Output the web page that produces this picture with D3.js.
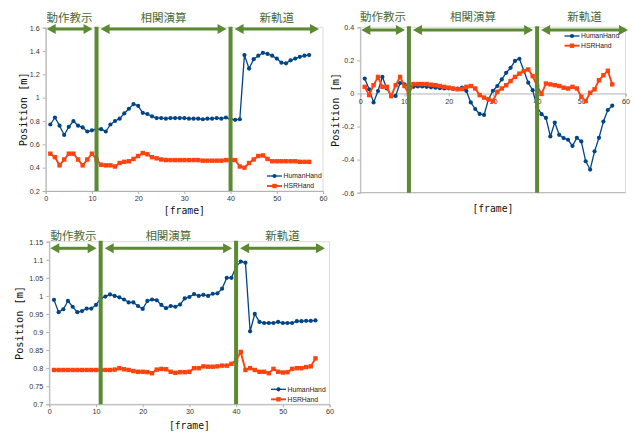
<!DOCTYPE html>
<html><head><meta charset="utf-8">
<script src="https://cdn.jsdelivr.net/npm/d3@7"></script>
<style>html,body{margin:0;padding:0;background:#fff;}svg{display:block;}</style>
</head><body>
<svg id="c" width="635" height="432"></svg>
<script>
// ---------- DATA ----------
const frames = [1,2,3,4,5,6,7,8,9,10,11,12,13,14,15,16,17,18,19,20,21,22,23,24,25,26,27,28,29,30,
  31,32,33,34,35,36,37,38,39,40,41,42,43,44,45,46,47,48,49,50,51,52,53,54,55,56,57];
const seriesNames = ["HumanHand","HSRHand"];
const phaseLabels = ["動作教示","相関演算","新軌道"];
const phaseBounds = [11, 40];           // frame positions of the green separators
const xTicks = [0,10,20,30,40,50,60];

const chart1Human = [0.77,0.83,0.76,0.68,0.75,0.80,0.76,0.745,0.71,0.72,0.73,0.73,0.71,0.77,0.80,0.82,0.865,0.905,0.945,0.93,
  0.87,0.86,0.84,0.825,0.825,0.82,0.825,0.825,0.825,0.825,0.82,0.82,0.82,0.815,0.82,0.82,0.825,0.82,0.83,0.815,
  0.81,0.815,1.365,1.25,1.33,1.36,1.385,1.375,1.36,1.335,1.30,1.295,1.32,1.335,1.35,1.36,1.365];
const chart1HSR = [0.52,0.49,0.42,0.47,0.52,0.52,0.47,0.42,0.47,0.52,0.47,0.425,0.42,0.42,0.41,0.44,0.45,0.455,0.475,0.50,
  0.525,0.515,0.49,0.48,0.47,0.465,0.465,0.465,0.465,0.465,0.465,0.465,0.465,0.46,0.46,0.46,0.46,0.46,0.465,0.465,
  0.465,0.41,0.40,0.44,0.47,0.50,0.505,0.475,0.455,0.455,0.455,0.455,0.455,0.455,0.45,0.45,0.45];
const chart1YTicks = [0.2,0.4,0.6,0.8,1,1.2,1.4,1.6];
const chart1YLabels = ["0.2","0.4","0.6","0.8","1","1.2","1.4","1.6"];

const chart2Human = [0.09,0.025,-0.054,0.015,0.10,0.03,-0.016,-0.015,0.063,0.055,0.045,0.04,0.042,0.042,0.04,0.037,0.035,0.032,0.03,0.03,
  0.028,0.03,0.035,0.015,-0.054,-0.094,-0.124,-0.13,-0.036,0.016,0.045,0.085,0.125,0.155,0.197,0.21,0.137,0.065,0.02,-0.082,
  -0.125,-0.148,-0.26,-0.176,-0.25,-0.27,-0.28,-0.317,-0.268,-0.29,-0.41,-0.46,-0.35,-0.268,-0.17,-0.10,-0.074];
const chart2HSR = [0.04,-0.01,0.05,0.10,0.04,0.04,-0.016,0.05,0.10,0.045,-0.004,0.057,0.057,0.057,0.057,0.053,0.05,0.045,0.04,0.035,
  0.03,0.025,0.027,0.04,0.045,0.03,-0.01,-0.025,-0.035,-0.045,0.01,0.03,0.05,0.075,0.10,0.12,0.135,0.145,0.105,0.045,
  -0.003,0.06,0.055,0.05,0.045,0.035,0.03,0.04,0.03,-0.02,-0.046,0.004,0.025,0.08,0.11,0.137,0.055];
const chart2YTicks = [-0.6,-0.4,-0.2,0,0.2,0.4];
const chart2YLabels = ["-0.6","-0.4","-0.2","0","0.2","0.4"];

const chart3Human = [0.989,0.955,0.963,0.986,0.97,0.955,0.958,0.965,0.965,0.975,0.993,0.998,1.004,1.0,0.996,0.99,0.982,0.982,0.972,0.964,
  0.986,0.99,0.988,0.975,0.966,0.972,0.97,0.976,0.993,0.997,1.005,1.0,1.003,1.0,1.006,1.007,1.02,1.05,1.05,1.081,
  1.095,1.092,0.902,0.95,0.928,0.925,0.925,0.925,0.928,0.925,0.925,0.925,0.93,0.93,0.931,0.931,0.932];
const chart3HSR = [0.795,0.795,0.795,0.795,0.795,0.795,0.795,0.795,0.795,0.795,0.795,0.795,0.795,0.796,0.80,0.797,0.795,0.792,0.79,0.79,
  0.789,0.786,0.796,0.798,0.797,0.79,0.787,0.789,0.789,0.79,0.80,0.80,0.805,0.804,0.804,0.805,0.807,0.807,0.812,0.822,
  0.845,0.795,0.80,0.795,0.79,0.79,0.786,0.798,0.79,0.788,0.789,0.798,0.80,0.80,0.803,0.805,0.827];
const chart3YTicks = [0.7,0.75,0.8,0.85,0.9,0.95,1,1.05,1.1,1.15];
const chart3YLabels = ["0.7","0.75","0.8","0.85","0.9","0.95","1","1.05","1.1","1.15"];

// ---------- STYLE ----------
const BLUE = "#004586", ORANGE = "#ff420e", GREEN = "#5b8a33", GTEXT = "#4c6936";
const AXIS = "#b3b3b3", BORDER = "#dcdcdc", TICKTXT = "#333";
const svg = d3.select("#c");

function drawChart(cfg) {
  const g = svg.append("g");
  const x = d3.scaleLinear().domain([0, 60]).range([cfg.left, cfg.right]);
  const y = d3.scaleLinear().domain(cfg.yDomain).range([cfg.bottom, cfg.top]);

  // plot border
  g.append("rect").attr("x", cfg.left).attr("y", cfg.top)
    .attr("width", cfg.right - cfg.left).attr("height", cfg.bottom - cfg.top)
    .attr("fill", "none").attr("stroke", BORDER).attr("stroke-width", 1);

  // y axis
  const yAxis = d3.axisLeft(y).tickValues(cfg.yTicks).tickSize(3).tickPadding(3)
    .tickFormat((d, i) => cfg.yLabels[i]);
  const ya = g.append("g").attr("transform", `translate(${cfg.left},0)`).call(yAxis);
  ya.select(".domain").attr("stroke", AXIS);
  ya.selectAll(".tick line").attr("stroke", AXIS);
  ya.selectAll("text").attr("fill", TICKTXT).style("font-family", "'Liberation Sans', Arial, sans-serif").style("font-size", "7.2px");

  // x axis (at zero if domain crosses zero)
  const xAxisY = cfg.xAtZero ? y(0) : cfg.bottom;
  const xAxis = d3.axisBottom(x).tickValues(xTicks).tickSize(3).tickPadding(2).tickFormat(d3.format("d"));
  const xa = g.append("g").attr("transform", `translate(0,${xAxisY})`).call(xAxis);
  xa.select(".domain").attr("stroke", AXIS);
  xa.selectAll(".tick line").attr("stroke", AXIS);
  xa.selectAll("text").attr("fill", TICKTXT).style("font-family", "'Liberation Sans', Arial, sans-serif").style("font-size", "7.2px");
  if (cfg.xAtZero) {
    g.append("line").attr("x1", cfg.left).attr("x2", cfg.right).attr("y1", cfg.bottom).attr("y2", cfg.bottom)
      .attr("stroke", AXIS);
  }

  // series
  const series = [
    {name: seriesNames[0], vals: cfg.human, color: BLUE, w: 1.3, shape: "circle"},
    {name: seriesNames[1], vals: cfg.hsr, color: ORANGE, w: 1.9, shape: "square"}
  ];
  const line = d3.line().x((d) => x(d[0])).y((d) => y(d[1]));
  series.forEach(s => {
    const pts = frames.map((f, i) => [f, s.vals[i]]);
    g.append("path").datum(pts).attr("d", line).attr("fill", "none")
      .attr("stroke", s.color).attr("stroke-width", s.w).attr("stroke-linejoin", "round");
    if (s.shape === "circle") {
      g.selectAll(null).data(pts).enter().append("circle")
        .attr("cx", d => x(d[0])).attr("cy", d => y(d[1])).attr("r", 2.1).attr("fill", s.color);
    } else {
      g.selectAll(null).data(pts).enter().append("rect")
        .attr("x", d => x(d[0]) - 2.2).attr("y", d => y(d[1]) - 2.2)
        .attr("width", 4.4).attr("height", 4.4).attr("fill", s.color);
    }
  });

  // green separators
  phaseBounds.forEach(b => {
    g.append("line").attr("x1", x(b)).attr("x2", x(b)).attr("y1", cfg.top - 1).attr("y2", cfg.bottom)
      .attr("stroke", GREEN).attr("stroke-width", 4);
  });

  // double-headed arrows + labels
  const segs = [
    [x(0) + 1, x(phaseBounds[0]) - 4],
    [x(phaseBounds[0]) + 4, x(phaseBounds[1]) - 4],
    [x(phaseBounds[1]) + 4, x(60) + cfg.arrowEndOff]
  ];
  const ah = 9, aw = 5;
  segs.forEach((s, i) => {
    const [a, b] = s, yy = cfg.arrowY;
    g.append("line").attr("x1", a + ah - 1).attr("x2", b - ah + 1).attr("y1", yy).attr("y2", yy)
      .attr("stroke", GREEN).attr("stroke-width", 3);
    g.append("path").attr("d", `M${a},${yy} L${a + ah},${yy - aw} L${a + ah},${yy + aw} Z`).attr("fill", GREEN);
    g.append("path").attr("d", `M${b},${yy} L${b - ah},${yy - aw} L${b - ah},${yy + aw} Z`).attr("fill", GREEN);
    g.append("text").attr("x", (a + b) / 2).attr("y", cfg.labelY).attr("text-anchor", "middle")
      .attr("fill", GTEXT).style("font-family", "'Noto Sans CJK JP', sans-serif").style("font-size", "11.5px")
      .text(phaseLabels[i]);
  });

  // axis titles
  const midY = (cfg.top + cfg.bottom) / 2;
  g.append("text").attr("transform", `translate(${cfg.yTitleX},${midY}) rotate(-90)`)
    .attr("text-anchor", "middle").attr("dy", "0.35em")
    .attr("textLength", 74).attr("lengthAdjust", "spacingAndGlyphs")
    .style("font-family", "'DejaVu Sans Mono', monospace").style("font-size", "11px").attr("fill", "#111")
    .text("Position [m]");
  g.append("text").attr("x", (cfg.left + cfg.right) / 2).attr("y", cfg.xTitleY).attr("text-anchor", "middle")
    .attr("textLength", 41).attr("lengthAdjust", "spacingAndGlyphs")
    .style("font-family", "'DejaVu Sans Mono', monospace").style("font-size", "11px").attr("fill", "#111")
    .text("[frame]");

  // legend
  series.forEach((s, i) => {
    const ly = cfg.legY + i * cfg.legGap;
    g.append("line").attr("x1", cfg.legX).attr("x2", cfg.legX + 15).attr("y1", ly).attr("y2", ly)
      .attr("stroke", s.color).attr("stroke-width", s.w);
    if (s.shape === "circle") {
      g.append("circle").attr("cx", cfg.legX + 7.5).attr("cy", ly).attr("r", 2.1).attr("fill", s.color);
    } else {
      g.append("rect").attr("x", cfg.legX + 5.3).attr("y", ly - 2.2).attr("width", 4.4).attr("height", 4.4).attr("fill", s.color);
    }
    g.append("text").attr("x", cfg.legX + 16.5).attr("y", ly).attr("dy", "0.35em")
      .style("font-family", "'Liberation Sans', Arial, sans-serif").style("font-size", "6.8px").attr("fill", "#222")
      .text(s.name);
  });
}

drawChart({left: 45.7, right: 323, top: 27.7, bottom: 191, yDomain: [0.2, 1.6],
  yTicks: chart1YTicks, yLabels: chart1YLabels, human: chart1Human, hsr: chart1HSR,
  arrowY: 29, arrowEndOff: -4, labelY: 21.5, yTitleX: 23, xTitleY: 214,
  legX: 267, legY: 176, legGap: 10});

drawChart({left: 360.3, right: 625.5, top: 27.3, bottom: 192.7, yDomain: [-0.6, 0.4], xAtZero: true,
  yTicks: chart2YTicks, yLabels: chart2YLabels, human: chart2Human, hsr: chart2HSR,
  arrowY: 30, arrowEndOff: 2.5, labelY: 21, yTitleX: 335, xTitleY: 212,
  legX: 564.5, legY: 36, legGap: 9.7});

drawChart({left: 49.3, right: 329.5, top: 241.7, bottom: 404.3, yDomain: [0.7, 1.15],
  yTicks: chart3YTicks, yLabels: chart3YLabels, human: chart3Human, hsr: chart3HSR,
  arrowY: 248.3, arrowEndOff: -4.5, labelY: 239.5, yTitleX: 19, xTitleY: 429,
  legX: 271, legY: 389.3, legGap: 10});
</script>
</body></html>
